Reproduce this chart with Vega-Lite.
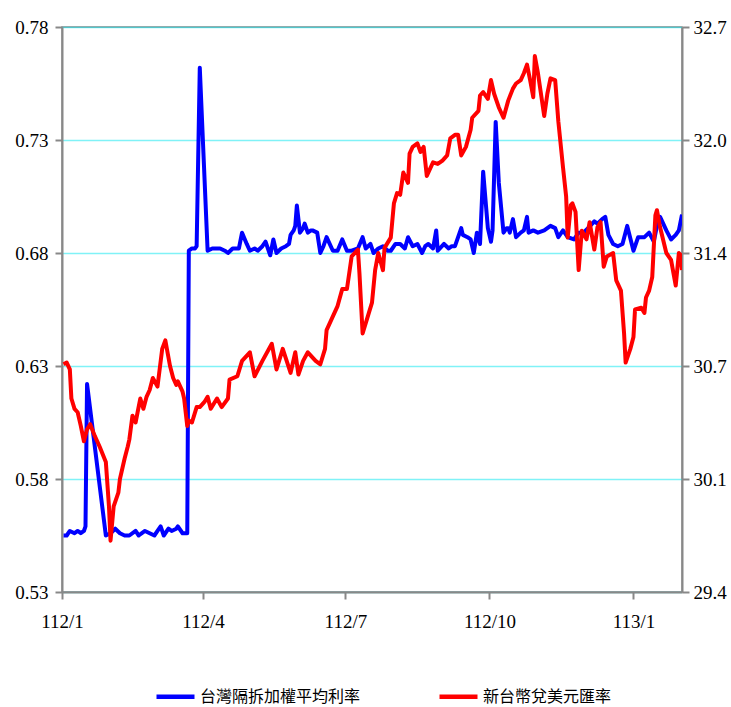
{
  "$schema": "https://vega.github.io/schema/vega-lite/v6.json",
  "width": 620,
  "height": 565,
  "autosize": {"type": "none"},
  "padding": {"left": 62, "top": 27, "right": 49, "bottom": 115},
  "background": "white",
  "title": {"text": "新台幣利率與匯率走勢圖", "font": "Noto Sans CJK TC", "fontSize": 18, "fontWeight": "normal", "color": "#000000", "offset": 23, "baseline": "bottom", "dx": 14},
  "config": {
    "view": {"stroke": "#888888", "strokeWidth": 1.5},
    "axis": {"labelFont": "Liberation Serif", "labelFontSize": 19, "labelColor": "#000000", "domainColor": "#888888", "domainWidth": 2, "tickColor": "#888888", "tickWidth": 2, "title": null}
  },
  "datasets": {
    "rate": [
      {"date": "2023-01-02", "v": 0.555}, {"date": "2023-01-04", "v": 0.555}, {"date": "2023-01-06", "v": 0.557}, {"date": "2023-01-09", "v": 0.556},
      {"date": "2023-01-11", "v": 0.557}, {"date": "2023-01-13", "v": 0.556}, {"date": "2023-01-15", "v": 0.557}, {"date": "2023-01-16", "v": 0.559},
      {"date": "2023-01-17", "v": 0.622}, {"date": "2023-01-29", "v": 0.555}, {"date": "2023-02-01", "v": 0.556}, {"date": "2023-02-04", "v": 0.558},
      {"date": "2023-02-07", "v": 0.556}, {"date": "2023-02-10", "v": 0.555}, {"date": "2023-02-13", "v": 0.555}, {"date": "2023-02-17", "v": 0.557},
      {"date": "2023-02-19", "v": 0.555}, {"date": "2023-02-21", "v": 0.556}, {"date": "2023-02-23", "v": 0.557}, {"date": "2023-02-26", "v": 0.556},
      {"date": "2023-03-01", "v": 0.555}, {"date": "2023-03-03", "v": 0.557}, {"date": "2023-03-05", "v": 0.559}, {"date": "2023-03-07", "v": 0.555},
      {"date": "2023-03-10", "v": 0.558}, {"date": "2023-03-12", "v": 0.557}, {"date": "2023-03-15", "v": 0.558}, {"date": "2023-03-16", "v": 0.559},
      {"date": "2023-03-19", "v": 0.556}, {"date": "2023-03-21", "v": 0.556}, {"date": "2023-03-22", "v": 0.556}, {"date": "2023-03-23", "v": 0.681},
      {"date": "2023-03-25", "v": 0.682}, {"date": "2023-03-27", "v": 0.682}, {"date": "2023-03-28", "v": 0.683}, {"date": "2023-03-30", "v": 0.762},
      {"date": "2023-04-04", "v": 0.681}, {"date": "2023-04-07", "v": 0.682}, {"date": "2023-04-09", "v": 0.682}, {"date": "2023-04-12", "v": 0.682},
      {"date": "2023-04-15", "v": 0.681}, {"date": "2023-04-17", "v": 0.680}, {"date": "2023-04-20", "v": 0.682}, {"date": "2023-04-24", "v": 0.682},
      {"date": "2023-04-26", "v": 0.689}, {"date": "2023-04-29", "v": 0.684}, {"date": "2023-05-01", "v": 0.681}, {"date": "2023-05-04", "v": 0.682},
      {"date": "2023-05-06", "v": 0.681}, {"date": "2023-05-09", "v": 0.683}, {"date": "2023-05-11", "v": 0.685}, {"date": "2023-05-13", "v": 0.681},
      {"date": "2023-05-14", "v": 0.679}, {"date": "2023-05-16", "v": 0.686}, {"date": "2023-05-18", "v": 0.680}, {"date": "2023-05-21", "v": 0.682},
      {"date": "2023-05-24", "v": 0.683}, {"date": "2023-05-26", "v": 0.684}, {"date": "2023-05-27", "v": 0.688}, {"date": "2023-05-29", "v": 0.690},
      {"date": "2023-05-30", "v": 0.692}, {"date": "2023-05-31", "v": 0.701}, {"date": "2023-06-02", "v": 0.689}, {"date": "2023-06-04", "v": 0.691},
      {"date": "2023-06-05", "v": 0.693}, {"date": "2023-06-07", "v": 0.689}, {"date": "2023-06-09", "v": 0.690}, {"date": "2023-06-10", "v": 0.690},
      {"date": "2023-06-13", "v": 0.689}, {"date": "2023-06-15", "v": 0.680}, {"date": "2023-06-17", "v": 0.683}, {"date": "2023-06-19", "v": 0.687},
      {"date": "2023-06-23", "v": 0.681}, {"date": "2023-06-26", "v": 0.681}, {"date": "2023-06-29", "v": 0.686}, {"date": "2023-07-02", "v": 0.681},
      {"date": "2023-07-05", "v": 0.681}, {"date": "2023-07-09", "v": 0.682}, {"date": "2023-07-12", "v": 0.687}, {"date": "2023-07-14", "v": 0.682},
      {"date": "2023-07-17", "v": 0.684}, {"date": "2023-07-19", "v": 0.680}, {"date": "2023-07-22", "v": 0.682}, {"date": "2023-07-25", "v": 0.683},
      {"date": "2023-07-28", "v": 0.681}, {"date": "2023-07-30", "v": 0.681}, {"date": "2023-08-02", "v": 0.684}, {"date": "2023-08-05", "v": 0.684},
      {"date": "2023-08-08", "v": 0.682}, {"date": "2023-08-10", "v": 0.687}, {"date": "2023-08-13", "v": 0.683}, {"date": "2023-08-16", "v": 0.684},
      {"date": "2023-08-19", "v": 0.680}, {"date": "2023-08-21", "v": 0.683}, {"date": "2023-08-23", "v": 0.684}, {"date": "2023-08-26", "v": 0.682},
      {"date": "2023-08-28", "v": 0.690}, {"date": "2023-08-29", "v": 0.681}, {"date": "2023-09-02", "v": 0.684}, {"date": "2023-09-05", "v": 0.682},
      {"date": "2023-09-07", "v": 0.683}, {"date": "2023-09-09", "v": 0.683}, {"date": "2023-09-13", "v": 0.691}, {"date": "2023-09-14", "v": 0.688},
      {"date": "2023-09-17", "v": 0.687}, {"date": "2023-09-19", "v": 0.686}, {"date": "2023-09-21", "v": 0.680}, {"date": "2023-09-23", "v": 0.689},
      {"date": "2023-09-25", "v": 0.684}, {"date": "2023-09-27", "v": 0.716}, {"date": "2023-09-30", "v": 0.691}, {"date": "2023-10-02", "v": 0.685},
      {"date": "2023-10-03", "v": 0.690}, {"date": "2023-10-05", "v": 0.738}, {"date": "2023-10-07", "v": 0.711}, {"date": "2023-10-10", "v": 0.689},
      {"date": "2023-10-12", "v": 0.691}, {"date": "2023-10-13", "v": 0.691}, {"date": "2023-10-14", "v": 0.689}, {"date": "2023-10-16", "v": 0.695},
      {"date": "2023-10-18", "v": 0.687}, {"date": "2023-10-21", "v": 0.689}, {"date": "2023-10-23", "v": 0.690}, {"date": "2023-10-25", "v": 0.696},
      {"date": "2023-10-26", "v": 0.689}, {"date": "2023-10-29", "v": 0.690}, {"date": "2023-11-01", "v": 0.689}, {"date": "2023-11-05", "v": 0.690},
      {"date": "2023-11-07", "v": 0.691}, {"date": "2023-11-09", "v": 0.692}, {"date": "2023-11-12", "v": 0.691}, {"date": "2023-11-14", "v": 0.687},
      {"date": "2023-11-17", "v": 0.690}, {"date": "2023-11-20", "v": 0.687}, {"date": "2023-11-24", "v": 0.686}, {"date": "2023-11-27", "v": 0.689},
      {"date": "2023-11-30", "v": 0.689}, {"date": "2023-12-03", "v": 0.691}, {"date": "2023-12-07", "v": 0.694}, {"date": "2023-12-09", "v": 0.693},
      {"date": "2023-12-12", "v": 0.695}, {"date": "2023-12-14", "v": 0.696}, {"date": "2023-12-16", "v": 0.688}, {"date": "2023-12-19", "v": 0.684},
      {"date": "2023-12-22", "v": 0.683}, {"date": "2023-12-25", "v": 0.684}, {"date": "2023-12-28", "v": 0.692}, {"date": "2024-01-01", "v": 0.681},
      {"date": "2024-01-04", "v": 0.687}, {"date": "2024-01-08", "v": 0.687}, {"date": "2024-01-11", "v": 0.689}, {"date": "2024-01-14", "v": 0.685},
      {"date": "2024-01-16", "v": 0.692}, {"date": "2024-01-18", "v": 0.696}, {"date": "2024-01-22", "v": 0.690}, {"date": "2024-01-25", "v": 0.686},
      {"date": "2024-01-28", "v": 0.688}, {"date": "2024-01-30", "v": 0.690}, {"date": "2024-02-01", "v": 0.697}
    ],
    "fx": [
      {"date": "2023-01-02", "r": 30.73}, {"date": "2023-01-04", "r": 30.74}, {"date": "2023-01-06", "r": 30.70}, {"date": "2023-01-07", "r": 30.53},
      {"date": "2023-01-09", "r": 30.47}, {"date": "2023-01-11", "r": 30.45}, {"date": "2023-01-13", "r": 30.37}, {"date": "2023-01-15", "r": 30.28},
      {"date": "2023-01-17", "r": 30.35}, {"date": "2023-01-19", "r": 30.38}, {"date": "2023-01-22", "r": 30.31}, {"date": "2023-01-25", "r": 30.25},
      {"date": "2023-01-29", "r": 30.16}, {"date": "2023-01-31", "r": 29.90}, {"date": "2023-02-01", "r": 29.70}, {"date": "2023-02-03", "r": 29.90},
      {"date": "2023-02-06", "r": 29.98}, {"date": "2023-02-07", "r": 30.06}, {"date": "2023-02-10", "r": 30.18}, {"date": "2023-02-12", "r": 30.25},
      {"date": "2023-02-13", "r": 30.29}, {"date": "2023-02-15", "r": 30.43}, {"date": "2023-02-17", "r": 30.39}, {"date": "2023-02-20", "r": 30.53},
      {"date": "2023-02-22", "r": 30.47}, {"date": "2023-02-24", "r": 30.54}, {"date": "2023-02-26", "r": 30.58}, {"date": "2023-02-28", "r": 30.65},
      {"date": "2023-03-03", "r": 30.60}, {"date": "2023-03-06", "r": 30.82}, {"date": "2023-03-08", "r": 30.87}, {"date": "2023-03-11", "r": 30.72},
      {"date": "2023-03-13", "r": 30.65}, {"date": "2023-03-15", "r": 30.61}, {"date": "2023-03-16", "r": 30.63}, {"date": "2023-03-19", "r": 30.57},
      {"date": "2023-03-20", "r": 30.53}, {"date": "2023-03-22", "r": 30.37}, {"date": "2023-03-23", "r": 30.40}, {"date": "2023-03-25", "r": 30.39},
      {"date": "2023-03-28", "r": 30.48}, {"date": "2023-03-30", "r": 30.48}, {"date": "2023-04-02", "r": 30.51}, {"date": "2023-04-04", "r": 30.54},
      {"date": "2023-04-06", "r": 30.47}, {"date": "2023-04-10", "r": 30.53}, {"date": "2023-04-13", "r": 30.48}, {"date": "2023-04-17", "r": 30.53},
      {"date": "2023-04-18", "r": 30.64}, {"date": "2023-04-23", "r": 30.66}, {"date": "2023-04-26", "r": 30.75}, {"date": "2023-05-01", "r": 30.80},
      {"date": "2023-05-04", "r": 30.66}, {"date": "2023-05-09", "r": 30.75}, {"date": "2023-05-15", "r": 30.85}, {"date": "2023-05-18", "r": 30.70},
      {"date": "2023-05-22", "r": 30.82}, {"date": "2023-05-27", "r": 30.68}, {"date": "2023-05-30", "r": 30.80}, {"date": "2023-06-01", "r": 30.67},
      {"date": "2023-06-04", "r": 30.75}, {"date": "2023-06-07", "r": 30.80}, {"date": "2023-06-12", "r": 30.75}, {"date": "2023-06-15", "r": 30.73},
      {"date": "2023-06-18", "r": 30.82}, {"date": "2023-06-19", "r": 30.93}, {"date": "2023-06-23", "r": 31.01}, {"date": "2023-06-26", "r": 31.07},
      {"date": "2023-06-29", "r": 31.17}, {"date": "2023-07-02", "r": 31.17}, {"date": "2023-07-05", "r": 31.36}, {"date": "2023-07-09", "r": 31.40},
      {"date": "2023-07-10", "r": 31.26}, {"date": "2023-07-12", "r": 30.91}, {"date": "2023-07-16", "r": 31.03}, {"date": "2023-07-18", "r": 31.09},
      {"date": "2023-07-20", "r": 31.28}, {"date": "2023-07-22", "r": 31.38}, {"date": "2023-07-25", "r": 31.28}, {"date": "2023-07-26", "r": 31.41},
      {"date": "2023-07-30", "r": 31.47}, {"date": "2023-08-01", "r": 31.67}, {"date": "2023-08-03", "r": 31.73}, {"date": "2023-08-05", "r": 31.72},
      {"date": "2023-08-07", "r": 31.85}, {"date": "2023-08-10", "r": 31.79}, {"date": "2023-08-11", "r": 31.96}, {"date": "2023-08-13", "r": 32.00},
      {"date": "2023-08-16", "r": 32.02}, {"date": "2023-08-18", "r": 31.97}, {"date": "2023-08-20", "r": 32.00}, {"date": "2023-08-22", "r": 31.83},
      {"date": "2023-08-26", "r": 31.91}, {"date": "2023-08-29", "r": 31.90}, {"date": "2023-09-01", "r": 31.92}, {"date": "2023-09-04", "r": 31.95},
      {"date": "2023-09-06", "r": 32.05}, {"date": "2023-09-09", "r": 32.07}, {"date": "2023-09-11", "r": 32.07}, {"date": "2023-09-13", "r": 31.95},
      {"date": "2023-09-16", "r": 32.00}, {"date": "2023-09-19", "r": 32.10}, {"date": "2023-09-20", "r": 32.17}, {"date": "2023-09-24", "r": 32.21},
      {"date": "2023-09-25", "r": 32.30}, {"date": "2023-09-27", "r": 32.32}, {"date": "2023-09-30", "r": 32.28}, {"date": "2023-10-02", "r": 32.39},
      {"date": "2023-10-04", "r": 32.31}, {"date": "2023-10-07", "r": 32.23}, {"date": "2023-10-10", "r": 32.17}, {"date": "2023-10-13", "r": 32.27},
      {"date": "2023-10-16", "r": 32.34}, {"date": "2023-10-18", "r": 32.37}, {"date": "2023-10-21", "r": 32.39}, {"date": "2023-10-23", "r": 32.43},
      {"date": "2023-10-25", "r": 32.48}, {"date": "2023-10-27", "r": 32.39}, {"date": "2023-10-29", "r": 32.29}, {"date": "2023-10-30", "r": 32.53},
      {"date": "2023-11-01", "r": 32.43}, {"date": "2023-11-05", "r": 32.18}, {"date": "2023-11-07", "r": 32.31}, {"date": "2023-11-09", "r": 32.40},
      {"date": "2023-11-12", "r": 32.39}, {"date": "2023-11-14", "r": 32.15}, {"date": "2023-11-17", "r": 31.88}, {"date": "2023-11-19", "r": 31.71},
      {"date": "2023-11-20", "r": 31.47}, {"date": "2023-11-22", "r": 31.66}, {"date": "2023-11-23", "r": 31.67}, {"date": "2023-11-25", "r": 31.62},
      {"date": "2023-11-27", "r": 31.28}, {"date": "2023-11-29", "r": 31.51}, {"date": "2023-12-02", "r": 31.46}, {"date": "2023-12-04", "r": 31.56},
      {"date": "2023-12-07", "r": 31.40}, {"date": "2023-12-09", "r": 31.53}, {"date": "2023-12-11", "r": 31.56}, {"date": "2023-12-13", "r": 31.30},
      {"date": "2023-12-15", "r": 31.36}, {"date": "2023-12-19", "r": 31.38}, {"date": "2023-12-21", "r": 31.22}, {"date": "2023-12-24", "r": 31.16},
      {"date": "2023-12-26", "r": 30.91}, {"date": "2023-12-27", "r": 30.74}, {"date": "2023-12-30", "r": 30.82}, {"date": "2024-01-01", "r": 30.89},
      {"date": "2024-01-02", "r": 31.05}, {"date": "2024-01-06", "r": 31.06}, {"date": "2024-01-08", "r": 31.03}, {"date": "2024-01-09", "r": 31.12},
      {"date": "2024-01-11", "r": 31.16}, {"date": "2024-01-13", "r": 31.24}, {"date": "2024-01-15", "r": 31.60}, {"date": "2024-01-16", "r": 31.63},
      {"date": "2024-01-18", "r": 31.53}, {"date": "2024-01-22", "r": 31.38}, {"date": "2024-01-25", "r": 31.34}, {"date": "2024-01-28", "r": 31.19},
      {"date": "2024-01-30", "r": 31.38}, {"date": "2024-01-31", "r": 31.37}, {"date": "2024-02-01", "r": 31.28}
    ]
  },
  "layer": [
    {
      "data": {"name": "rate"},
      "mark": {"type": "line", "strokeWidth": 4, "strokeJoin": "round", "clip": true},
      "encoding": {
        "x": {
          "field": "date", "type": "temporal",
          "scale": {"domain": [{"year": 2023, "month": 1, "date": 1}, {"year": 2024, "month": 2, "date": 1}]},
          "axis": {
            "values": [{"year": 2023, "month": 1, "date": 1}, {"year": 2023, "month": 4, "date": 1}, {"year": 2023, "month": 7, "date": 1}, {"year": 2023, "month": 10, "date": 1}, {"year": 2024, "month": 1, "date": 1}],
            "labelExpr": "(year(datum.value) - 1911) + '/' + (month(datum.value) + 1)",
            "grid": false, "tickSize": 7, "labelPadding": 13, "labelFlush": false, "labelOverlap": false
          }
        },
        "y": {
          "field": "v", "type": "quantitative",
          "scale": {"domain": [0.53, 0.78], "nice": false, "zero": false},
          "axis": {"orient": "left", "values": [0.53, 0.58, 0.63, 0.68, 0.73, 0.78], "format": ".2f", "grid": true, "gridColor": "#00E5EE", "gridDash": [1, 1], "gridWidth": 1.3, "tickSize": 7, "labelPadding": 7}
        },
        "color": {
          "datum": "台灣隔拆加權平均利率", "type": "nominal",
          "scale": {"domain": ["台灣隔拆加權平均利率", "新台幣兌美元匯率"], "range": ["#0000FF", "#FF0000"]},
          "legend": {"orient": "none", "legendX": 92, "legendY": 648, "direction": "horizontal", "title": null, "symbolType": "stroke", "symbolStrokeWidth": 4.5, "symbolSize": 1444, "labelFont": "Noto Sans CJK TC", "labelFontSize": 16, "labelColor": "#000000", "labelOffset": 3, "columnPadding": 69, "labelLimit": 300}
        }
      }
    },
    {
      "data": {"name": "fx"},
      "mark": {"type": "line", "strokeWidth": 4, "strokeJoin": "round", "clip": true},
      "encoding": {
        "x": {"field": "date", "type": "temporal"},
        "y": {
          "field": "r", "type": "quantitative",
          "scale": {"domain": [29.4, 32.7], "nice": false, "zero": false},
          "axis": {"orient": "right", "values": [29.4, 30.06, 30.72, 31.38, 32.04, 32.7], "format": ".1f", "grid": false, "tickSize": 7, "labelPadding": 4}
        },
        "color": {"datum": "新台幣兌美元匯率", "type": "nominal"}
      }
    }
  ],
  "resolve": {"scale": {"y": "independent"}}
}
